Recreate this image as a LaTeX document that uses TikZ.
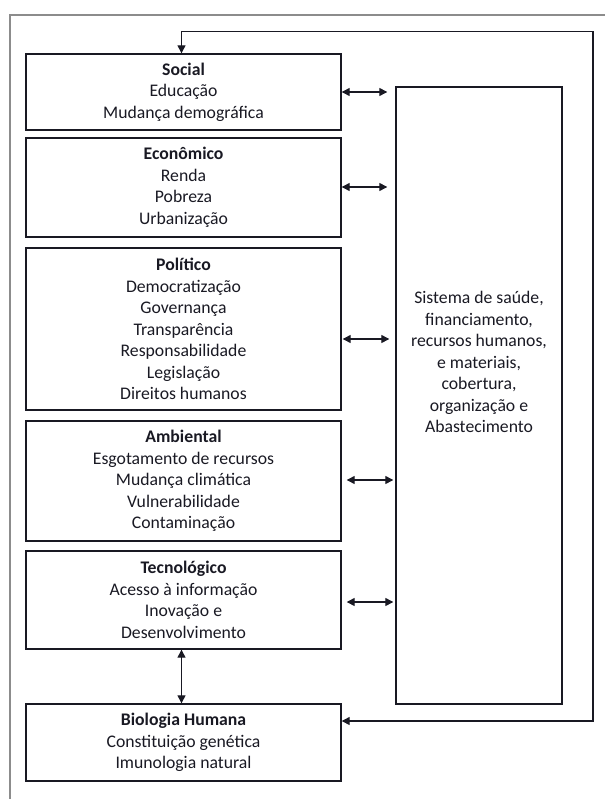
\documentclass[tikz,border=0pt]{standalone}
\usepackage{fontspec}
\setmainfont{Carlito}
\usetikzlibrary{arrows.meta}
\definecolor{framegray}{RGB}{140,140,140}
\definecolor{ink}{RGB}{25,25,35}
\tikzset{
  catbox/.style={draw=ink, line width=1.4pt, minimum width=315pt, inner sep=0pt,
    align=center, text=ink, font=\fontsize{17.7}{21.5}\selectfont},
  plaintext/.style={inner sep=0pt, align=center, text=ink, font=\fontsize{17.7}{21.5}\selectfont},
  link/.style={draw=ink, line width=1.3pt, {Triangle[length=8pt,width=8pt]}-{Triangle[length=8pt,width=8pt]}},
}
\begin{document}
\begin{tikzpicture}[x=1pt,y=-1pt]
\useasboundingbox (0,0) rectangle (605,799);
% page frame
\draw[framegray, line width=2.5pt] (10,799) -- (10,15) -- (605,15);

% determinant boxes
\node[catbox, minimum height=76pt]  (soc) at (183.5,92)   {\textbf{Social}\\Educação\\Mudança demográfica};
\node[catbox, minimum height=99pt]  (eco) at (183.5,187.5) {\textbf{Econômico}\\Renda\\Pobreza\\Urbanização};
\node[catbox, minimum height=162pt] (pol) at (183.5,329)  {\textbf{Político}\\Democratização\\Governança\\Transparência\\Responsabilidade\\Legislação\\Direitos humanos};
\node[catbox, minimum height=120pt] (amb) at (183.5,481)  {\textbf{Ambiental}\\Esgotamento de recursos\\Mudança climática\\Vulnerabilidade\\Contaminação};
\node[catbox, minimum height=98pt]  (tec) at (183.5,600)  {\textbf{Tecnológico}\\Acesso à informação\\Inovação e\\Desenvolvimento};
\node[catbox, minimum height=77pt]  (bio) at (183.5,742.5) {\textbf{Biologia Humana}\\Constituição genética\\Imunologia natural};

% health system box
\node[catbox, minimum width=166pt, minimum height=617pt] (sys) at (479,395.5) {};
\node[plaintext] (systxt) at (479,362) {Sistema de saúde,\\financiamento,\\recursos humanos,\\e materiais,\\cobertura,\\organização e\\Abastecimento};

% two-way links to the health system
\draw[link, shorten >=8pt] (soc.east) -- (soc.east -| sys.west);
\draw[link, shorten >=8pt] (eco.east |- 0,187) -- (sys.west |- 0,187);
\draw[link, shorten <=1pt, shorten >=6pt] (pol.east |- 0,339) -- (sys.west |- 0,339);
\draw[link, shorten <=5pt, shorten >=2pt] (amb.east |- 0,480) -- (sys.west |- 0,480);
\draw[link, shorten <=5pt, shorten >=2pt] (tec.east |- 0,602) -- (sys.west |- 0,602);

% technology <-> human biology
\draw[link] (tec.south -| 181.5,0) -- (bio.north -| 181.5,0);

% feedback loop from human biology back to social
\coordinate (loopTL) at (181.5,31.5);
\coordinate (loopTR) at (593,31.5);
\coordinate (loopBR) at (593,721);
\draw[link] (soc.north -| loopTL) -- (loopTL) -- (loopTR) -- (loopBR) -- (bio.east |- loopBR);
\end{tikzpicture}
\end{document}
